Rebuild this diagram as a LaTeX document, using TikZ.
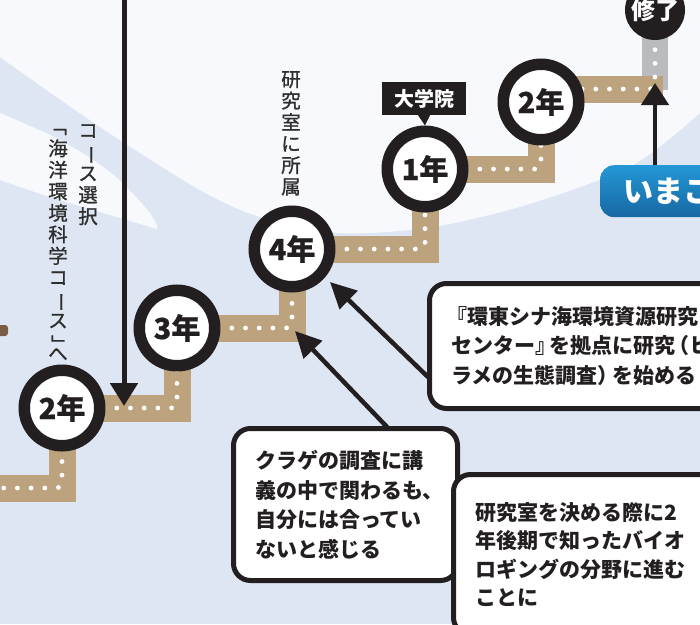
\documentclass[tikz,border=0pt]{standalone}
\usepackage{fontspec}
\usepackage{graphicx}
\newfontfamily\jp{Noto Sans CJK JP}
\newfontfamily\jph[BoldFeatures={FakeBold=0.6}]{Noto Sans CJK JP}
\newfontfamily\jpm[FakeBold=0.9]{Noto Sans CJK JP}
\usetikzlibrary{arrows.meta}
\definecolor{bgblue}{HTML}{DFE6F3}
\definecolor{bglight}{HTML}{F7F9FD}
\definecolor{pathtan}{HTML}{BCA37E}
\definecolor{pathgray}{HTML}{B9BBBF}
\definecolor{ink}{HTML}{231F20}
\definecolor{labelgray}{HTML}{2E2E2E}
\definecolor{nowtop}{HTML}{2497D6}
\definecolor{nowbot}{HTML}{1768A2}
\definecolor{iconbrown}{HTML}{7A5C44}
\newcommand{\vrot}[1]{\rotatebox[origin=c]{-90}{#1}}
\begin{document}
\begin{tikzpicture}[x=1pt,y=-1pt,
  band/.style={draw=pathtan,line width=27pt,line join=miter,line cap=butt},
  dotline/.style={draw=white,line width=4.8pt,line cap=round,dash pattern=on 0pt off 13.7pt,rounded corners=6pt},
  yearring/.style={circle,draw=ink,fill=white,line width=11.5pt,minimum size=75.5pt,inner sep=0pt,text=ink,font=\jph\bfseries\fontsize{29}{29}\selectfont},
  vlabel/.style={anchor=north,align=center,inner sep=0pt,text=labelgray,font=\jpm\fontsize{19.5}{21.5}\selectfont},
  callout/.style={rectangle,rounded corners=17pt,draw=ink,line width=5pt,fill=white,anchor=north west,align=left,inner xsep=21.5pt,inner ysep=0pt,text=ink,font=\jp\bfseries\fontsize{21}{29.5}\selectfont},
  pointer/.style={draw=ink,line width=4.5pt},
]
\useasboundingbox (0,0) rectangle (700,624);
% background
\fill[bgblue] (0,0) rectangle (700,624);
\fill[bglight] plot[smooth] coordinates {(0,57) (100,127) (200,190) (260,217) (340,233) (433,227) (533,203) (633,165) (700,113)} -- (700,0) -- (0,0) -- cycle;
\fill[bglight] plot[smooth] coordinates {(0,113) (60,140) (110,172) (145,207) (157,225)} -- plot[smooth] coordinates {(157,229) (110,215) (50,197) (0,180)} -- cycle;
\fill[iconbrown,rounded corners=3pt] (-4,325) rectangle (8,336);

% coordinates of the route
\coordinate (s0) at (-10,488);
\coordinate (c2L) at (62,408);
\coordinate (c3) at (177,328);
\coordinate (c4) at (292,249);
\coordinate (c1) at (425,169);
\coordinate (c2G) at (541,102);
\coordinate (bandR) at (541,89);
\coordinate (bandE) at (663,89);
\coordinate (cfin) at (655,10);
\coordinate (grayS) at (655,90);

% bands
\draw[band] (s0) -| (c2L);
\draw[band] (c2L) -| (c3);
\draw[band] (c3) -| (c4);
\draw[band] (c4) -| (c1);
\draw[band] (c1) -| (c2G);
\draw[draw=pathgray,line width=26pt] (grayS) -- (cfin);
\draw[band] (bandR) -- (bandE);

% dots
\draw[dotline] (s0) -| (c2L);
\draw[dotline] (c2L) -| (c3);
\draw[dotline] (c3) -| (c4);
\draw[dotline] (c4) -| (c1);
\draw[dotline] (c1) -| (c2G);
\draw[dotline] (bandR) -| (cfin);

% year circles
\node[yearring] (y2L) at (c2L) {2年};
\node[yearring] (y3) at (c3) {3年};
\node[yearring] (y4) at (c4) {4年};
\node[yearring] (y1) at (c1) {1年};
\node[yearring] (y2G) at (c2G) {2年};
\node[circle,fill=ink,minimum size=60pt,inner sep=0pt,text=white,font=\jp\bfseries\fontsize{24}{24}\selectfont] (fin) at (cfin) {\raisebox{-2pt}{修了}};

% graduate school tag
\node[fill=ink,text=white,minimum width=84pt,minimum height=33pt,inner sep=0pt,font=\jp\bfseries\fontsize{20}{20}\selectfont] (grad) at (424,98.5) {大学院};
\fill[ink] ([xshift=-6pt]grad.south) -- ([xshift=6pt]grad.south) -- (y1.north) -- cycle;

% vertical labels
\node[vlabel] (course) at (88,124) {コ\\\vrot{ー}\\ス\\選\\択};
\node[vlabel] (kaiyo) at (58,116) {\vrot{「}\\海\\洋\\環\\境\\科\\学\\コ\\\vrot{ー}\\ス\\\vrot{」}\\[-10pt]へ};
\node[vlabel] (lab) at (291,71) {研\\究\\室\\に\\所\\属};

% arrows
\coordinate (topA) at (124,-10);
\coordinate (tipTop) at (124,406);
\draw[pointer,line width=5pt,-{Triangle[length=23pt,width=27pt]}] (topA) -- (tipTop);
\coordinate (tailA) at (429,378);
\coordinate (tipA) at (330,282);
\draw[pointer,-{Triangle[length=26pt,width=25pt]}] (tailA) -- (tipA);
\coordinate (tailB) at (388,428);
\coordinate (tipB) at (295,331);
\draw[pointer,-{Triangle[length=26pt,width=25pt]}] (tailB) -- (tipB);

% callout boxes
\node[callout,text width=350pt,minimum height=125pt] (boxA) at (427,281)
  {\hspace*{-5pt}『環東シナ海環境資源研究\\センター』\kern-7pt{}を拠点に研究\kern-7pt{}（ヒ\\ラメの生態調査）\kern-6pt{}を始める};
\node[callout,text width=181pt,minimum height=152pt] (boxB) at (231,426)
  {クラゲの調査に講\\義の中で関わるも、\\自分には合ってい\\ないと感じる};
\node[callout,text width=300pt,minimum height=160pt,font=\jp\bfseries\fontsize{21}{28.5}\selectfont] (boxC) at (451,472)
  {研究室を決める際に2\\年後期で知ったバイオ\\ロギングの分野に進む\\ことに};

% now box
\node[rectangle,rounded corners=14pt,top color=nowtop,bottom color=nowbot,anchor=north west,minimum height=52pt,text width=130pt,inner xsep=23pt,inner ysep=0pt,align=left,text=white,font=\jp\bfseries\fontsize{30}{30}\selectfont] (now) at (600,165) {いまここ};
\coordinate (nowTip) at (655,83);
\draw[pointer,-{Triangle[length=22pt,width=27pt]}] (now.north -| fin) -- (nowTip);
\end{tikzpicture}
\end{document}
